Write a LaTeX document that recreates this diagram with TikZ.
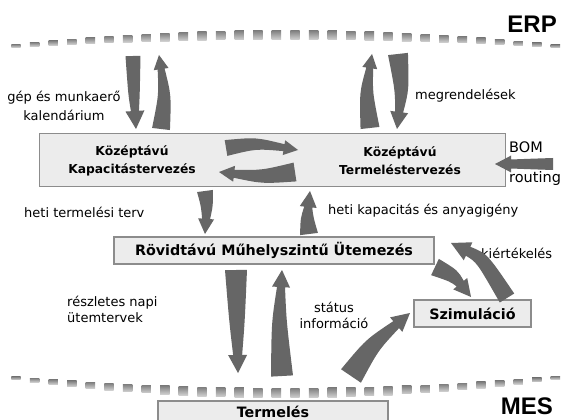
\documentclass[tikz,border=0pt]{standalone}
\usepackage{fontspec}
\setmainfont{DejaVu Sans}
\newfontfamily\erpfont{Liberation Sans}
\usetikzlibrary{calc}
\definecolor{arrgray}{HTML}{666666}
\definecolor{boxfill}{HTML}{ECECEC}
\definecolor{boxline}{HTML}{8C8C8C}
\definecolor{dashtop}{HTML}{808080}
\definecolor{dashbot}{HTML}{D0D0D0}
\tikzset{
  blockarr/.style={fill=arrgray},
  box/.style={draw=boxline, fill=boxfill, line width=1.3pt, inner sep=0pt},
  lbl/.style={font=\fontsize{13}{19.5}\selectfont, inner sep=0pt},
  lbltwo/.style={font=\fontsize{13}{16}\selectfont, inner sep=0pt},
  lblbig/.style={font=\fontsize{14.5}{17}\selectfont, inner sep=0pt},
  boxtxt/.style={font=\bfseries\fontsize{12.3}{18}\selectfont, inner sep=0pt, align=center},
  bigtxt/.style={font=\bfseries\fontsize{14.3}{17}\selectfont},
  erp/.style={font=\erpfont\bfseries\fontsize{24}{26}\selectfont, inner sep=0pt},
}
% tapered, slightly curved block arrow: tail, control, tip, tail width, shaft width at head, head width
\newcommand\barrow[6]{%
 \fill[blockarr] let
  \p1=(#1), \p2=(#2), \p3=(#3),
  \n{tx}={\x1}, \n{ty}={\y1}, \n{cx}={\x2}, \n{cy}={\y2}, \n{px}={\x3}, \n{py}={\y3},
  \n{el}={veclen((\n{px})-(\n{cx}),(\n{py})-(\n{cy}))},
  \n{ex}={((\n{px})-(\n{cx}))/(\n{el})}, \n{ey}={((\n{py})-(\n{cy}))/(\n{el})},
  \n{bx}={(\n{px})-0.95*#6*(\n{ex})}, \n{by}={(\n{py})-0.95*#6*(\n{ey})},
  \n{tl}={veclen((\n{cx})-(\n{tx}),(\n{cy})-(\n{ty}))},
  \n{ntx}={-((\n{cy})-(\n{ty}))/(\n{tl})}, \n{nty}={((\n{cx})-(\n{tx}))/(\n{tl})},
  \n{ml}={veclen((\n{bx})-(\n{tx}),(\n{by})-(\n{ty}))},
  \n{nmx}={-((\n{by})-(\n{ty}))/(\n{ml})}, \n{nmy}={((\n{bx})-(\n{tx}))/(\n{ml})},
  \n{wm}={(#4+#5)/4}
 in
  ({((\n{tx})+#4/2*(\n{ntx}))*1pt},{((\n{ty})+#4/2*(\n{nty}))*1pt})
  .. controls ({((\n{cx})+(\n{wm})*(\n{nmx}))*1pt},{((\n{cy})+(\n{wm})*(\n{nmy}))*1pt}) ..
  ({((\n{bx})-#5/2*(\n{ey}))*1pt},{((\n{by})+#5/2*(\n{ex}))*1pt})
  -- ({((\n{bx})-#6/2*(\n{ey}))*1pt},{((\n{by})+#6/2*(\n{ex}))*1pt})
  -- (#3)
  -- ({((\n{bx})+#6/2*(\n{ey}))*1pt},{((\n{by})-#6/2*(\n{ex}))*1pt})
  -- ({((\n{bx})+#5/2*(\n{ey}))*1pt},{((\n{by})-#5/2*(\n{ex}))*1pt})
  .. controls ({((\n{cx})-(\n{wm})*(\n{nmx}))*1pt},{((\n{cy})-(\n{wm})*(\n{nmy}))*1pt}) ..
  ({((\n{tx})-#4/2*(\n{ntx}))*1pt},{((\n{ty})-#4/2*(\n{nty}))*1pt})
  -- cycle;
}
\begin{document}
\begin{tikzpicture}[x=1pt,y=-1pt]
\useasboundingbox (0,0) rectangle (566,420);
\fill[white] (0,0) rectangle (566,420);

% dashed boundary curves
\foreach \i in {0,...,29}{
  \pgfmathsetmacro\xx{16+\i*18.6}
  \pgfmathsetmacro\uu{(\xx-284)/270}
  \pgfmathsetmacro\yy{35+11*\uu*\uu}
  \pgfmathsetmacro\th{(9-6*\uu*\uu)/2}
  \shade[top color=dashtop, bottom color=dashbot] (\xx-4.7,\yy-\th) rectangle (\xx+4.7,\yy+\th);
  \pgfmathsetmacro\yb{393-15*\uu*\uu}
  \pgfmathsetmacro\tb{(9.5-6.5*\uu*\uu)/2}
  \shade[top color=dashtop, bottom color=dashbot] (\xx-4.7,\yb-\tb) rectangle (\xx+4.7,\yb+\tb);
}

% boxes
\node[box, minimum width=466pt, minimum height=53pt, anchor=north west] (topbox) at (39,133) {};
\node[boxtxt] (kap) at (132,161) {Középtávú\\Kapacitástervezés};
\node[boxtxt] (term) at (400,161) {Középtávú\\Termeléstervezés};
\node[box, bigtxt, minimum width=320pt, minimum height=27pt] (rov) at (274,250.5) {Rövidtávú Műhelyszintű Ütemezés};
\node[box, bigtxt, minimum width=117pt, minimum height=27pt] (szim) at (472.5,313.5) {Szimuláció};
\node[box, minimum width=230pt, minimum height=30pt] (termel) at (273,416) {};
\node[bigtxt, inner sep=0pt] (termeltxt) at (273,411.5) {Termelés};

% labels
\node[erp, anchor=east] (erp) at (557,24) {ERP};
\node[erp, anchor=east] (mes) at (553,406) {MES};
\node[lbl, align=center] (gep) at (64,106) {gép és munkaerő\\kalendárium};
\node[lbl, anchor=west] (megr) at (415,96) {megrendelések};
\node[lblbig, anchor=west] (bom) at (509,147) {BOM};
\node[lblbig, anchor=west] (rout) at (509,178) {routing};
\node[lbl, anchor=west] (htt) at (24,212) {heti termelési terv};
\node[lbl, anchor=west] (hka) at (328,211) {heti kapacitás és anyagigény};
\node[lbl, anchor=west] (kiert) at (481,253) {kiértékelés};
\node[lbltwo, align=left, anchor=west] (resz) at (67,309) {részletes napi\\ütemtervek};
\node[lbltwo, align=center] (stat) at (334,315) {státus\\információ};

% arrow coordinates
\coordinate (a1t) at (133,56);  \coordinate (a1c) at (134,95);  \coordinate (a1h) at (136,129);
\coordinate (a2t) at (161,129); \coordinate (a2c) at (165,95);  \coordinate (a2h) at (159,55);
\coordinate (a3t) at (370,128); \coordinate (a3c) at (366,92);  \coordinate (a3h) at (372,54);
\coordinate (a4t) at (398,54);  \coordinate (a4c) at (402,90);  \coordinate (a4h) at (397,129);
\coordinate (a5t) at (226,148); \coordinate (a5c) at (256,143); \coordinate (a5h) at (298,150);
\coordinate (a6t) at (295,172); \coordinate (a6c) at (262,177); \coordinate (a6h) at (219,172);
\coordinate (a7t) at (205,191); \coordinate (a7c) at (207,206); \coordinate (a7h) at (205,234);
\coordinate (a8t) at (309,234); \coordinate (a8c) at (307,218); \coordinate (a8h) at (310,191);
\coordinate (a9t) at (435,267); \coordinate (a9c) at (454,276); \coordinate (a9h) at (471,297);
\coordinate (a10t) at (507,298); \coordinate (a10c) at (482,258); \coordinate (a10h) at (451,243);
\coordinate (a11t) at (236,270); \coordinate (a11c) at (237,322); \coordinate (a11h) at (238,373);
\coordinate (a12t) at (282,376); \coordinate (a12c) at (279,322); \coordinate (a12h) at (282,270);
\coordinate (a13t) at (351,376); \coordinate (a13c) at (372,345); \coordinate (a13h) at (410,313);
\coordinate (a14t) at (553,164); \coordinate (a14c) at (530,164); \coordinate (a14h) at (495,164);

\barrow{a1t}{a1c}{a1h}{15}{8}{19}
\barrow{a2t}{a2c}{a2h}{18}{7}{15}
\barrow{a3t}{a3c}{a3h}{19}{7}{15}
\barrow{a4t}{a4c}{a4h}{20}{8}{18}
\barrow{a5t}{a5c}{a5h}{16}{7}{15}
\barrow{a6t}{a6c}{a6h}{19}{8}{16}
\barrow{a7t}{a7c}{a7h}{16}{8}{16}
\barrow{a8t}{a8c}{a8h}{18}{8}{17}
\barrow{a9t}{a9c}{a9h}{18}{9}{18}
\barrow{a10t}{a10c}{a10h}{17}{10}{20}
\barrow{a11t}{a11c}{a11h}{22}{9}{19}
\barrow{a12t}{a12c}{a12h}{22}{8}{18}
\barrow{a13t}{a13c}{a13h}{24}{9}{19}
\barrow{a14t}{a14c}{a14h}{12}{9}{17}
\end{tikzpicture}
\end{document}
